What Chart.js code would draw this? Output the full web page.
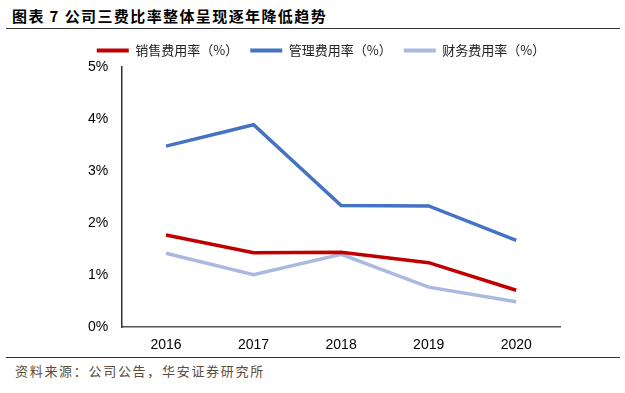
<!DOCTYPE html>
<html>
<head>
<meta charset="utf-8">
<script src="https://cdn.jsdelivr.net/npm/chart.js@4.4.0/dist/chart.umd.min.js"></script>
<style>
  html, body { margin: 0; padding: 0; background: #fff; }
  #wrap { position: relative; width: 625px; height: 393px; overflow: hidden; }
  #title { position: absolute; left: 12px; top: 5px; font: bold 15px "Noto Sans CJK SC", sans-serif; color: #000; letter-spacing: 1.4px; }
  .rule { position: absolute; left: 6px; width: 614px; height: 1px; background: #333; }
  #source { position: absolute; left: 15px; top: 361px; font: 13px "Noto Sans CJK SC", sans-serif; color: #5b4c3c; letter-spacing: 1.7px; }
  #box { position: absolute; left: 0; top: 30px; width: 625px; height: 326px; }
</style>
</head>
<body>
<div id="wrap">
  <div id="title">图表 7 公司三费比率整体呈现逐年降低趋势</div>
  <div class="rule" style="top:28px"></div>
  <div id="box"><canvas id="lineChart"></canvas></div>
  <div class="rule" style="top:357px"></div>
  <div id="source">资料来源：公司公告，华安证券研究所</div>
</div>
<script>
var years = ['2016', '2017', '2018', '2019', '2020'];
var salesRate = [1.77, 1.43, 1.44, 1.24, 0.71];
var adminRate = [3.48, 3.89, 2.34, 2.33, 1.67];
var financeRate = [1.42, 1.01, 1.40, 0.77, 0.49];
var seriesNames = ['销售费用率（%）', '管理费用率（%）', '财务费用率（%）'];
var seriesColors = ['#C00000', '#4472C4', '#A9B9E0'];

var ctx = document.getElementById('lineChart').getContext('2d');
var lineChart = new Chart(ctx, {
  type: 'line',
  data: {
    labels: years,
    datasets: [
      { label: seriesNames[0], data: salesRate, borderColor: seriesColors[0], backgroundColor: seriesColors[0], borderWidth: 3.5 },
      { label: seriesNames[1], data: adminRate, borderColor: seriesColors[1], backgroundColor: seriesColors[1], borderWidth: 3.5 },
      { label: seriesNames[2], data: financeRate, borderColor: seriesColors[2], backgroundColor: seriesColors[2], borderWidth: 3.5 }
    ]
  },
  options: {
    responsive: true,
    maintainAspectRatio: false,
    animation: false,
    elements: {
      line: { tension: 0 },
      point: { radius: 0, hoverRadius: 0 }
    },
    layout: { padding: { left: 82, right: 65, top: 2, bottom: 0 } },
    plugins: {
      legend: {
        position: 'top',
        labels: {
          usePointStyle: true,
          pointStyle: 'line',
          pointStyleWidth: 32,
          color: '#222',
          padding: 12,
          font: { family: '"Noto Sans CJK SC", sans-serif', size: 13 },
          generateLabels: function (chart) {
            return chart.data.datasets.map(function (ds, i) {
              return {
                text: ds.label,
                strokeStyle: seriesColors[i],
                fillStyle: seriesColors[i],
                lineWidth: 4,
                pointStyle: 'line',
                fontColor: '#222',
                datasetIndex: i,
                hidden: false
              };
            });
          }
        }
      },
      tooltip: { enabled: false }
    },
    scales: {
      x: {
        offset: true,
        grid: { display: false },
        border: { color: '#555', width: 1.5 },
        ticks: { color: '#000', padding: 2, font: { family: '"Liberation Sans", Arial, sans-serif', size: 14 } }
      },
      y: {
        min: 0,
        max: 5,
        grid: { display: false, drawTicks: true },
        border: { color: '#333', width: 1.5 },
        ticks: {
          stepSize: 1,
          color: '#000',
          padding: 6,
          font: { family: '"Liberation Sans", Arial, sans-serif', size: 14 },
          callback: function (v) { return v + '%'; }
        }
      }
    }
  }
});
</script>
</body>
</html>
